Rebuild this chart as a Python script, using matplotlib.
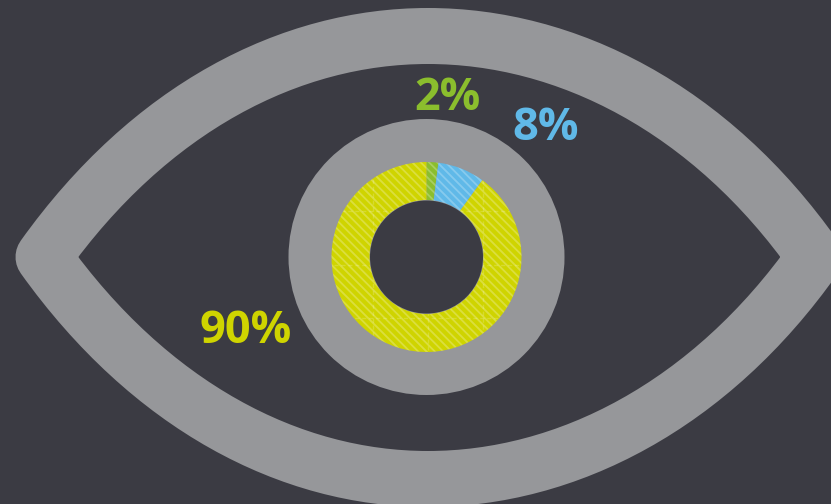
import matplotlib
matplotlib.use("Agg")
import matplotlib.pyplot as plt
from matplotlib.patches import Circle, PathPatch
from matplotlib.path import Path

shares = [2, 8, 90]
share_labels = ["2%", "8%", "90%"]
share_colors = ["#8BBE2D", "#60B9E8", "#CFD400"]

BG = "#3B3B43"
GREY = "#96979A"
H = 504  # canvas height, axis runs upward

plt.rcParams["font.family"] = ["Open Sans", "DejaVu Sans"]
plt.rcParams["hatch.linewidth"] = 1.3

fig = plt.figure(figsize=(8.31, 5.04), dpi=100, facecolor=BG)
ax = fig.add_axes([0, 0, 1, 1])

cx, cy = 426.5, H - 257

# eye outline, stroked so the corners come out round on the outside
verts = [(43.5, cy), (150, H - 108), (290, H - 36), (428, H - 36),
         (566, H - 36), (710, H - 108), (815, cy),
         (710, H - 406), (566, H - 479), (428, H - 479),
         (290, H - 479), (150, H - 406), (43.5, cy), (43.5, cy)]
codes = [Path.MOVETO] + [Path.CURVE4] * 12 + [Path.CLOSEPOLY]
ax.add_patch(PathPatch(Path(verts, codes), fc="none", ec=GREY, lw=56 * 0.72,
                       joinstyle="round"))

# iris
ax.add_patch(Circle((cx, cy), 138, fc=GREY, ec="none"))

# donut
wedges, _ = ax.pie(shares, colors=share_colors, startangle=90, counterclock=False,
                   center=(cx, cy), radius=95, wedgeprops=dict(width=38, linewidth=0))
for w in wedges:
    w.set_hatch("\\\\\\\\")
    w.set_edgecolor((1, 1, 1, 0.25))
ax.add_patch(Circle((cx, cy), 56.5, fc=BG, ec="none", zorder=5))

# faint seams in the stripe pattern
for x in [373, 428, 483]:
    ln = ax.plot([x, x], [cy - 100, cy + 100], color="white", alpha=0.18, lw=1, ls=(0, (3, 2)))[0]
    ln.set_clip_path(wedges[2])
for y in [211, 265, 318]:
    ln = ax.plot([cx - 100, cx + 100], [H - y, H - y], color="white", alpha=0.18, lw=1, ls=(0, (3, 2)))[0]
    ln.set_clip_path(wedges[2])

# labels
label_pos = [(447.5, H - 110), (546, H - 139.5), (246, H - 343)]
for txt, col, (x, y) in zip(share_labels, share_colors, label_pos):
    ax.text(x, y, txt, color=col, fontsize=32.5, fontweight="bold", ha="center", va="baseline")

ax.set_xlim(0, 831)
ax.set_ylim(0, H)
ax.set_aspect("equal")
ax.axis("off")

fig.savefig("out.png", dpi=100, facecolor=BG)
